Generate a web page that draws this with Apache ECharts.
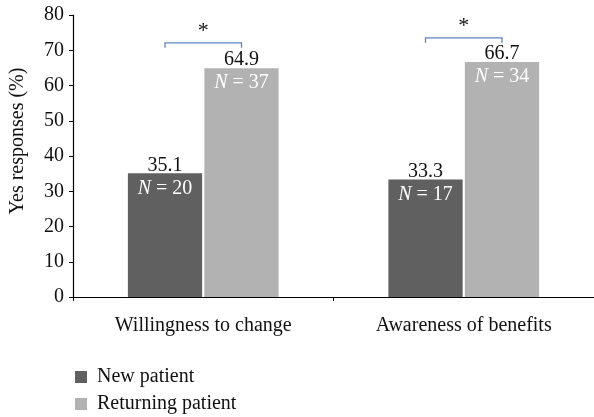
<!DOCTYPE html>
<html>
<head>
<meta charset="utf-8">
<script src="https://cdn.jsdelivr.net/npm/echarts@6/dist/echarts.min.js"></script>
<style>html,body{margin:0;padding:0;background:#fff}#c{width:594px;height:417px}</style>
</head>
<body>
<div id="c"></div>
<script>
var categories = ['Willingness to change', 'Awareness of benefits'];
var newPatient = [35.1, 33.3];
var returningPatient = [64.9, 66.7];
var newN = [20, 17];
var returningN = [37, 34];
var yTicks = [0, 10, 20, 30, 40, 50, 60, 70, 80];
var bracketLevels = [72.1, 73.5];
var sigMarks = ['*', '*'];

var FONT = 'Liberation Serif';
var FS = 20;
var BAR_W = 0.285, BAR_GAP = 0.03;

function labelFor(nArr) {
  return {
    show: true, position: 'insideTop', distance: 5,
    formatter: function (p) { return '{i|N}{n| = ' + nArr[p.dataIndex] + '}'; },
    rich: {
      i: { fontFamily: FONT, fontStyle: 'italic', fontSize: FS, color: '#fff' },
      n: { fontFamily: FONT, fontSize: FS, color: '#fff' }
    }
  };
}

var chart = echarts.init(document.getElementById('c'), null, { renderer: 'canvas' });
var legendText = { fontFamily: FONT, fontSize: FS, color: '#111', padding: [0, 0, 0, 5] };
chart.setOption({
  animation: false,
  textStyle: { fontFamily: FONT },
  grid: { left: 71, right: -3, top: 15, bottom: 120 },
  legend: [
    { left: 70, top: 362, itemWidth: 12, itemHeight: 12, icon: 'rect', textStyle: legendText, data: ['New patient'] },
    { left: 70, top: 389, itemWidth: 12, itemHeight: 12, icon: 'rect', textStyle: legendText, data: ['Returning patient'] }
  ],
  xAxis: {
    type: 'category', data: categories,
    axisLine: { lineStyle: { color: '#000', width: 1.2 } },
    axisTick: { show: true, length: 4, inside: false, lineStyle: { color: '#000' } },
    axisLabel: { fontFamily: FONT, fontSize: FS, color: '#111', margin: 19 }
  },
  yAxis: {
    type: 'value', min: 0, max: 80, interval: 10,
    name: 'Yes responses (%)', nameLocation: 'middle', nameGap: 45,
    nameTextStyle: { fontFamily: FONT, fontSize: FS, color: '#111', padding: [0, 0, 0, 30] },
    axisLine: { show: true, lineStyle: { color: '#000', width: 1.2 } },
    axisTick: { show: true, length: 4, lineStyle: { color: '#000' } },
    splitLine: { show: false },
    axisLabel: { fontFamily: FONT, fontSize: FS, color: '#111', margin: 9,
      formatter: function (v) { return yTicks.indexOf(v) >= 0 ? String(v) : ''; } }
  },
  series: [
    { name: 'New patient', type: 'bar', data: newPatient, barWidth: (BAR_W * 100) + '%', barGap: (BAR_GAP * 100) + '%',
      itemStyle: { color: '#606060' }, label: labelFor(newN) },
    { name: 'Returning patient', type: 'bar', data: returningPatient, barWidth: (BAR_W * 100) + '%', barGap: (BAR_GAP * 100) + '%',
      itemStyle: { color: '#b2b2b2' }, label: labelFor(returningN) },
    {
      type: 'custom', silent: true, z: 5,
      data: categories.map(function (c, i) { return [i, bracketLevels[i], newPatient[i], returningPatient[i]]; }),
      renderItem: function (params, api) {
        var band = api.size([1, 0])[0];
        var w = band * BAR_W;
        var off = (w + w * BAR_GAP) / 2;
        var p = api.coord([api.value(0), api.value(1)]);
        var pn = api.coord([api.value(0), api.value(2)]);
        var pr = api.coord([api.value(0), api.value(3)]);
        var drop = api.size([0, 1.4])[1];
        var x1 = p[0] - off, x2 = p[0] + off, y = p[1];
        var col = '#5a86c0';
        var txt = function (s, x, yy, fs) {
          return { type: 'text', style: { text: s, x: x, y: yy, textAlign: 'center', textVerticalAlign: 'bottom',
            fontFamily: FONT, fontSize: fs || FS, fill: '#111' } };
        };
        return {
          type: 'group',
          children: [
            { type: 'polyline', shape: { points: [[x1, y + drop], [x1, y], [x2, y], [x2, y + drop]] },
              style: { stroke: col, lineWidth: 1.3, fill: null } },
            txt(sigMarks[params.dataIndex], p[0], y - 1, 22),
            txt(api.value(2).toFixed(1), x1, pn[1] + 2),
            txt(api.value(3).toFixed(1), x2, pr[1] + 2)
          ]
        };
      }
    }
  ]
});
</script>
</body>
</html>
